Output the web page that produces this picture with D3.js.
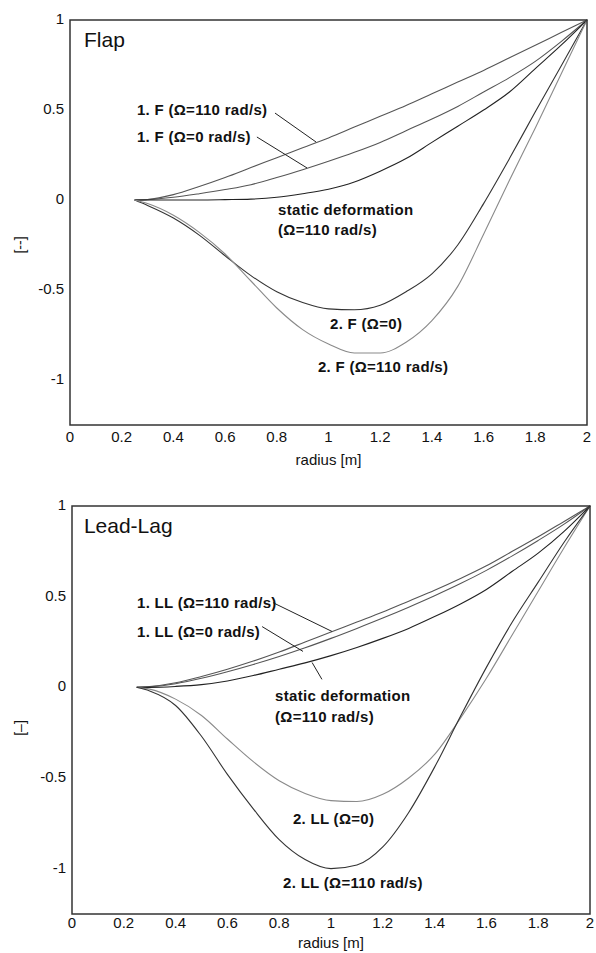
<!DOCTYPE html>
<html>
<head>
<meta charset="utf-8">
<script src="https://cdn.jsdelivr.net/npm/d3@7"></script>
<style>
  body { margin: 0; background: #fff; }
  text { font-family: "Liberation Sans", Arial, sans-serif; }
  .lbl { font-weight: bold; font-size: 15px; letter-spacing: 0.3px; fill: #111; }
  .tick { font-size: 15px; fill: #111; }
</style>
</head>
<body>
<svg id="svgcanvas" width="596" height="953"></svg>
<script>
// radius stations [m]
var radius = [0.25,0.3,0.4,0.5,0.6,0.7,0.8,0.9,1.0,1.1,1.2,1.3,1.4,1.5,1.6,1.7,1.8,1.9,2.0];

// flap mode shapes
var flap1W110 = [0,0.003,0.03,0.075,0.125,0.18,0.235,0.29,0.345,0.405,0.465,0.525,0.59,0.655,0.72,0.79,0.86,0.93,1];
var flap1W0 = [0,0.002,0.015,0.035,0.058,0.085,0.125,0.168,0.215,0.265,0.32,0.385,0.45,0.52,0.6,0.68,0.77,0.88,1];
var flapStatic = [0,0,0,0,0.002,0.005,0.015,0.035,0.06,0.1,0.16,0.23,0.32,0.41,0.5,0.6,0.73,0.86,1];
var flap2W0 = [0,-0.03,-0.1,-0.195,-0.31,-0.42,-0.51,-0.57,-0.605,-0.61,-0.585,-0.51,-0.41,-0.25,-0.02,0.23,0.49,0.745,1];
var flap2W110 = [0,-0.02,-0.085,-0.18,-0.3,-0.45,-0.6,-0.72,-0.8,-0.85,-0.85,-0.79,-0.67,-0.48,-0.19,0.11,0.4,0.7,1];

// lead-lag mode shapes
var ll1W110 = [0,0.004,0.025,0.06,0.1,0.145,0.195,0.25,0.305,0.36,0.415,0.475,0.535,0.6,0.67,0.75,0.83,0.915,1];
var ll1W0 = [0,0.003,0.02,0.05,0.086,0.126,0.17,0.218,0.27,0.325,0.382,0.442,0.505,0.572,0.645,0.725,0.81,0.9,1];
var llStatic = [0,0,0.005,0.015,0.035,0.065,0.1,0.135,0.175,0.22,0.27,0.325,0.39,0.46,0.54,0.64,0.74,0.86,1];
var ll2W0 = [0,-0.01,-0.065,-0.155,-0.285,-0.41,-0.515,-0.585,-0.625,-0.63,-0.59,-0.5,-0.37,-0.17,0.05,0.29,0.53,0.77,1];
var ll2W110 = [0,-0.02,-0.1,-0.27,-0.48,-0.67,-0.84,-0.95,-1.0,-0.98,-0.88,-0.69,-0.44,-0.16,0.11,0.36,0.58,0.8,1];

var xTicks = [0,0.2,0.4,0.6,0.8,1,1.2,1.4,1.6,1.8,2];
var yTicks = [1,0.5,0,-0.5,-1];

var svg = d3.select("#svgcanvas");

function drawPanel(p) {
  var x = d3.scaleLinear().domain([0,2]).range([p.left, p.right]);
  var y = d3.scaleLinear().domain([-1.25,1]).range([p.bottom, p.top]);
  var g = svg.append("g");

  // curves
  var line = d3.line().x(d=>x(d[0])).y(d=>y(d[1])).curve(d3.curveMonotoneX);
  p.series.forEach(function(s){
    g.append("path")
      .datum(radius.map((r,i)=>[r, s.values[i]]))
      .attr("d", line)
      .attr("fill","none")
      .attr("stroke", s.color)
      .attr("stroke-width", 1.1);
  });

  // frame
  g.append("rect")
    .attr("x", p.left).attr("y", p.top)
    .attr("width", p.right-p.left).attr("height", p.bottom-p.top)
    .attr("fill","none").attr("stroke","#333").attr("stroke-width",1.5);

  // tick labels
  g.selectAll("text.xt").data(xTicks).enter().append("text")
    .attr("class","tick").attr("x", d=>x(d)).attr("y", p.bottom+p.tickGap)
    .attr("text-anchor","middle").text(d=>d);
  g.selectAll("text.yt").data(yTicks).enter().append("text")
    .attr("class","tick").attr("x", p.left-6).attr("y", d=>y(d)+4)
    .attr("text-anchor","end").text(d=>d);

  g.append("text").attr("class","tick")
    .attr("x", (p.left+p.right)/2).attr("y", p.bottom+p.xlabelGap)
    .attr("text-anchor","middle").text("radius [m]");
  g.append("text").attr("class","tick").style("font-size","14px")
    .attr("transform","translate(25,"+p.ylabelY+") rotate(-90)")
    .attr("text-anchor","middle").text(p.ylabel);

  // title
  g.append("text").attr("x", x(p.title[1])).attr("y", y(p.title[2]))
    .style("font-size","21px").attr("fill","#111").text(p.title[0]);

  // leaders
  p.leaders.forEach(function(l){
    g.append("line").attr("x1",x(l[0])).attr("y1",y(l[1]))
      .attr("x2",x(l[2])).attr("y2",y(l[3]))
      .attr("stroke","#222").attr("stroke-width",1);
  });
  // labels
  p.labels.forEach(function(l){
    g.append("text").attr("class","lbl").attr("x",x(l[1])).attr("y",y(l[2])).text(l[0]);
  });
}

drawPanel({
  left:70, right:587, top:20, bottom:425, ylabel:"[--]", ylabelY:245, tickGap:17, xlabelGap:40,
  title:["Flap",0.054,0.85],
  series:[
    {values:flap1W110, color:"#555"},
    {values:flap1W0, color:"#555"},
    {values:flapStatic, color:"#222"},
    {values:flap2W0, color:"#333"},
    {values:flap2W110, color:"#8a8a8a"}
  ],
  leaders:[[0.793,0.483,0.952,0.322],[0.723,0.35,0.917,0.178]],
  labels:[
    ["1. F (\u03A9=110 rad/s)",0.259,0.472],
    ["1. F (\u03A9=0 rad/s)",0.259,0.322],
    ["static deformation",0.805,-0.083],
    ["(\u03A9=110 rad/s)",0.805,-0.194],
    ["2. F (\u03A9=0)",1.006,-0.717],
    ["2. F (\u03A9=110 rad/s)",0.959,-0.956]
  ]
});

drawPanel({
  left:72, right:590, top:506, bottom:914, ylabel:"[\u2013]", ylabelY:728, tickGap:14, xlabelGap:34,
  title:["Lead-Lag",0.046,0.852],
  series:[
    {values:ll1W110, color:"#555"},
    {values:ll1W0, color:"#555"},
    {values:llStatic, color:"#222"},
    {values:ll2W0, color:"#8a8a8a"},
    {values:ll2W110, color:"#333"}
  ],
  leaders:[[0.776,0.467,1.004,0.308],[0.734,0.335,0.892,0.198],[0.927,0.137,0.965,0.044]],
  labels:[
    ["1. LL (\u03A9=110 rad/s)",0.251,0.44],
    ["1. LL (\u03A9=0 rad/s)",0.251,0.275],
    ["static deformation",0.784,-0.077],
    ["(\u03A9=110 rad/s)",0.784,-0.192],
    ["2. LL (\u03A9=0)",0.853,-0.753],
    ["2. LL (\u03A9=110 rad/s)",0.815,-1.104]
  ]
});
</script>
</body>
</html>
